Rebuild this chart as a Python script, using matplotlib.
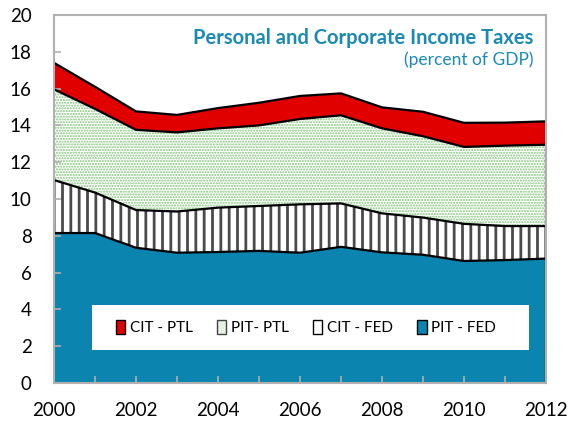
import matplotlib
matplotlib.use("Agg")
import matplotlib.pyplot as plt
from matplotlib.patches import Patch, Rectangle
import numpy as np

years = [2000, 2001, 2002, 2003, 2004, 2005, 2006, 2007, 2008, 2009, 2010, 2011, 2012]
pit_fed = [8.15, 8.15, 7.35, 7.08, 7.12, 7.18, 7.08, 7.4, 7.1, 6.97, 6.63, 6.68, 6.76]
cit_fed = [2.88, 2.2, 2.05, 2.24, 2.41, 2.44, 2.63, 2.36, 2.12, 2.02, 2.02, 1.85, 1.77]
pit_ptl = [4.93, 4.55, 4.36, 4.3, 4.31, 4.38, 4.64, 4.79, 4.62, 4.42, 4.18, 4.37, 4.42]
cit_ptl = [1.44, 1.2, 1.0, 0.95, 1.1, 1.23, 1.25, 1.19, 1.14, 1.33, 1.31, 1.25, 1.27]

series_labels = ["PIT - FED", "CIT - FED", "PIT- PTL", "CIT - PTL"]
title = "Personal and Corporate Income Taxes"
subtitle = "(percent of GDP)"

blue = "#0b84b0"
red = "#e00000"
green = "#80c278"
teal = "#1a8ab4"

plt.rcParams['font.family'] = ['Lato', 'DejaVu Sans']

fig = plt.figure(figsize=(5.78, 4.23), dpi=100)
ax = fig.add_axes([54/578, 1-383/423, 492/578, 368/423])

x = np.array(years, dtype=float)
b0 = np.zeros(len(x))
b1 = b0 + np.array(pit_fed)
b2 = b1 + np.array(cit_fed)
b3 = b2 + np.array(pit_ptl)
b4 = b3 + np.array(cit_ptl)

ax.fill_between(x, b0, b1, facecolor=blue, edgecolor=blue, linewidth=0, zorder=1)

plt.rcParams['hatch.linewidth'] = 2.0
pc = ax.fill_between(x, b1, b2, facecolor="white", edgecolor="#4a4a4a", hatch="||", linewidth=0, zorder=1)
if hasattr(pc, "set_hatch_linewidth"):
    pc.set_hatch_linewidth(2.0)

plt.rcParams['hatch.linewidth'] = 1.0
pc2 = ax.fill_between(x, b2, b3, facecolor="white", edgecolor=green, hatch="......", linewidth=0, zorder=1)
if hasattr(pc2, "set_hatch_linewidth"):
    pc2.set_hatch_linewidth(1.0)

ax.fill_between(x, b3, b4, facecolor=red, edgecolor=red, linewidth=0, zorder=1)

for top in (b1, b2, b3, b4):
    ax.plot(x, top, color="black", linewidth=1.6, zorder=3, solid_joinstyle="miter")
ax.plot([x[-1], x[-1]], [0, b4[-1]], color="black", linewidth=1.6, zorder=3)

ax.set_xlim(2000, 2012)
ax.set_ylim(0, 20)
ax.set_xticks(years)
ax.set_xticklabels([str(y) if (y % 2 == 0) else "" for y in years])
ax.set_yticks(range(0, 21, 2))
ax.tick_params(axis="both", direction="in", length=5, color="#b0b0b0", width=1.2,
               labelsize=13.5, colors="#b0b0b0", labelcolor="black")
ax.tick_params(axis="x", pad=14)
ax.tick_params(axis="y", pad=16)
for s in ax.spines.values():
    s.set_color("#b0b0b0")
    s.set_linewidth(1.5)
    s.set_zorder(4)

ax.text(0.975, 0.9375, title, transform=ax.transAxes, ha="right", va="center",
        fontsize=14.5, fontweight="bold", color=teal, zorder=6)
ax.text(0.975, 0.878, subtitle, transform=ax.transAxes, ha="right", va="center",
        fontsize=12.5, color=teal, zorder=6)

ax.add_patch(Rectangle((38/492, 33/368), 437/492, 45/368, transform=ax.transAxes,
                       facecolor="white", edgecolor="none", zorder=5))

handles = [
    Patch(facecolor=red, edgecolor="black", linewidth=1.0),
    Patch(facecolor="#e4f2e0", edgecolor="#444444", linewidth=1.0),
    Patch(facecolor="white", edgecolor="black", hatch="|", linewidth=1.0),
    Patch(facecolor=blue, edgecolor="black", linewidth=1.0),
]
labels = [series_labels[3], series_labels[2], series_labels[1], series_labels[0]]
leg = ax.legend(handles, labels, ncol=4, loc="center", bbox_to_anchor=(0.512, 0.151),
                frameon=False, fontsize=11, handlelength=0.6, handleheight=1.0,
                handletextpad=0.3, columnspacing=1.6, borderpad=0)
leg.set_zorder(7)

fig.savefig("out.png", dpi=100)
